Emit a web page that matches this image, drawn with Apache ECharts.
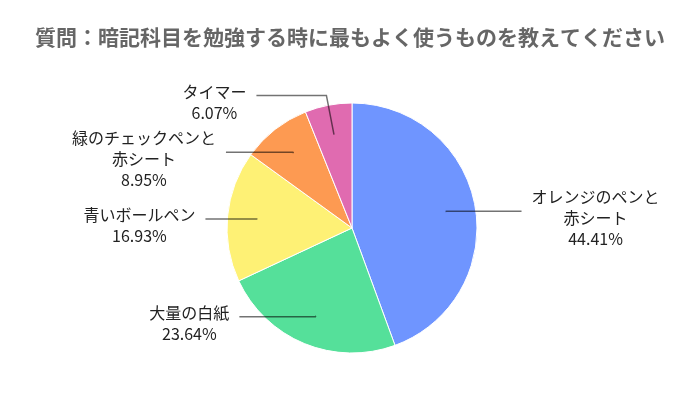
<!DOCTYPE html>
<html>
<head>
<meta charset="utf-8">
<script src="https://cdn.jsdelivr.net/npm/echarts@6/dist/echarts.min.js"></script>
<style>
  html, body { margin: 0; padding: 0; background: #fff; }
  #chart { width: 700px; height: 401px; }
</style>
</head>
<body>
<div id="chart"></div>
<script>
// 回答項目（時計回り、上から）
const names = ['オレンジのペンと\n赤シート', '大量の白紙', '青いボールペン', '緑のチェックペンと\n赤シート', 'タイマー']
// 割合(%)
const percents = [44.41, 23.64, 16.93, 8.95, 6.07]
const colors = ['#6f95ff', '#55e09a', '#fef175', '#fd9a52', '#e06bb0']

const FONT = '"Noto Sans CJK JP", "Noto Sans", sans-serif'

// 引き出し線の長さ（1本目, 2本目）
const leader = [[1, 75], [1, 76], [1, 51], [1, 67], [40, 70]]

const chart = echarts.init(document.getElementById('chart'))

const pieData = names.map((n, i) => ({
    name: n,
    value: percents[i],
    itemStyle: { color: colors[i] }
}))

// ラベル用の透明な内側の円（線を円の内側から出すため）
const labelData = names.map((n, i) => ({
    name: n,
    value: percents[i],
    labelLine: { length: leader[i][0], length2: leader[i][1] }
}))

const option = {
    animation: false,
    title: {
        text: '質問：暗記科目を勉強する時に最もよく使うものを教えてください',
        left: 'center',
        top: 22,
        textStyle: {
            fontFamily: FONT,
            fontSize: 21,
            fontWeight: 'bold',
            color: '#666'
        }
    },
    series: [
        {
            type: 'pie',
            center: [352, 228],
            radius: 125,
            startAngle: 90,
            clockwise: true,
            silent: true,
            data: pieData,
            itemStyle: { borderColor: '#fff', borderWidth: 1 },
            label: { show: false },
            labelLine: { show: false }
        },
        {
            type: 'pie',
            center: [352, 228],
            radius: 95,
            startAngle: 90,
            clockwise: true,
            silent: true,
            avoidLabelOverlap: false,
            z: 5,
            data: labelData,
            itemStyle: { color: 'rgba(0,0,0,0)' },
            label: {
                show: true,
                position: 'outside',
                distanceToLabelLine: 10,
                padding: [14, 0, 0, 0],
                formatter: p => `{t|${p.name}}\n{t|${p.value.toFixed(2)}%}`,
                rich: {
                    t: {
                        fontFamily: FONT,
                        fontSize: 16,
                        lineHeight: 21,
                        align: 'center',
                        color: '#222'
                    }
                }
            },
            labelLine: {
                show: true,
                lineStyle: { color: 'rgba(0,0,0,0.55)', width: 1.5 }
            }
        }
    ]
}

chart.setOption(option)
</script>
</body>
</html>
